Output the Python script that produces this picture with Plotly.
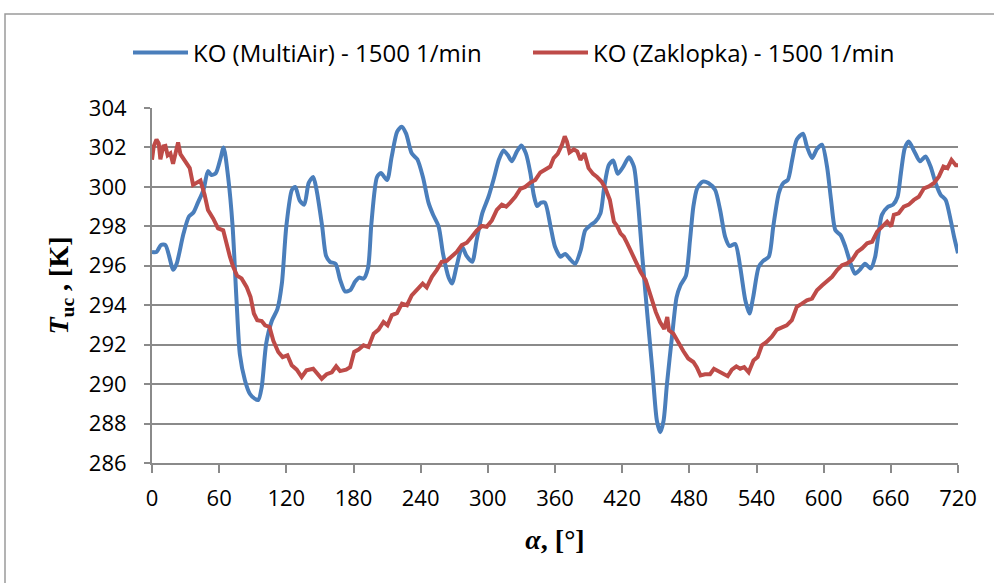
import plotly.graph_objects as go

# ---- data ----
multiair_deg = [0, 4, 8, 12, 19, 22, 28, 33, 37, 41, 46, 50, 53, 57, 61, 64, 68, 72, 75.5, 78.5,
                83, 87.5, 92, 95, 98, 102, 107, 112, 116, 120, 125, 128, 132, 136, 140, 144, 147, 152,
                155.5, 159, 164, 168, 172.5, 177, 181.5, 185, 189, 193, 196, 201, 204.5, 210, 214, 219,
                223, 227, 232, 237, 242, 247, 251, 256, 260, 265, 268, 272, 277, 281, 286, 290, 295,
                300.6, 305, 310, 314, 318, 321.5, 326, 330, 334, 338, 341, 344, 347.5, 351, 356, 360,
                365, 369, 374, 378, 383, 387, 392, 396, 400.6, 404, 408, 412, 416, 421, 426, 430.5, 434,
                438, 442.4, 447, 451, 454, 457, 460, 464.8, 468.6, 472, 477, 480.6, 483.6, 487, 492, 497,
                503, 507.5, 512, 516, 521, 525.4, 530, 533.7, 537, 542, 546, 551, 555, 560, 564, 568,
                572, 576, 581.5, 585, 589.6, 594, 598.5, 603, 606.6, 610.5, 615, 619.4, 624, 628, 632,
                637, 642, 646, 649, 652, 657, 662, 666, 669, 672.5, 676, 681, 686, 691, 695.5, 700,
                704.5, 709, 713.5, 716.5, 720]
multiair_T = [296.7, 296.7, 297.05, 297.05, 295.8, 296.1, 297.6, 298.5, 298.7, 299.2, 299.85, 300.8,
              300.6, 300.7, 301.4, 302.0, 300.5, 298.0, 294.25, 291.5, 290.2, 289.5, 289.25, 289.2,
              289.85, 292.05, 293.2, 293.8, 295.1, 298.0, 299.85, 300.0, 299.3, 299.1, 300.2, 300.5,
              299.85, 298.0, 296.5, 296.2, 296.1, 295.3, 294.7, 294.76, 295.2, 295.4, 295.35, 295.9,
              298.15, 300.5, 300.7, 300.35, 301.5, 302.8, 303.05, 302.7, 301.7, 301.4, 300.5, 299.2,
              298.6, 298.0, 296.6, 295.4, 295.1, 295.95, 296.96, 296.5, 296.2, 297.3, 298.66, 299.5,
              300.35, 301.4, 301.85, 301.6, 301.3, 301.8, 302.1, 301.7, 300.7, 299.6, 299.03, 299.2,
              299.2, 298.0, 296.96, 296.46, 296.6, 296.3, 296.1, 296.8, 297.8, 298.07, 298.24, 298.66,
              300.0, 301.1, 301.34, 300.66, 301.03, 301.5, 301.03, 299.3, 296.46, 293.58, 290.7,
              288.15, 287.56, 288.15, 290.0, 292.56, 294.4, 295.0, 295.5, 297.3, 299.0, 299.93, 300.27,
              300.2, 299.85, 298.83, 297.47, 297.0, 297.1, 295.95, 294.25, 293.58, 294.4, 295.95,
              296.25, 296.46, 298.0, 299.7, 300.2, 300.35, 301.4, 302.4, 302.7, 302.05, 301.46, 301.92,
              302.14, 301.03, 299.34, 297.8, 297.56, 296.96, 296.12, 295.6, 295.78, 296.1, 295.86,
              296.46, 297.63, 298.58, 298.97, 299.1, 299.5, 300.7, 301.97, 302.3, 301.8, 301.3,
              301.54, 301.03, 300.2, 299.6, 299.34, 298.3, 297.47, 296.63]

zaklopka_deg = [0, 1.5, 4, 6, 7.5, 10, 12, 14, 16.4, 18.8, 21, 23.3, 25.4, 29, 33.7, 36.7, 39.7, 43.3,
                47, 50, 54.6, 59, 63.6, 66.6, 69.6, 72.5, 76, 80, 84.5, 88, 91, 94, 98, 101, 105,
                108.4, 112.8, 116.7, 121, 124.8, 129.3, 133.7, 138, 144, 148, 151.6, 156, 160.6, 164.5,
                168, 173.4, 177, 180.6, 184.5, 189, 193.4, 198, 202.4, 206.8, 210.4, 214.3, 218.8,
                223.3, 227.8, 232, 236.7, 241.8, 245.4, 250, 254.3, 258.8, 263.3, 267.8, 272.2, 276.7,
                281.2, 285.7, 290, 294.6, 299, 303.6, 308, 312.5, 316.4, 320, 324.5, 329, 333.4, 338,
                342.4, 346.9, 351.3, 355.8, 358.8, 362.4, 366.3, 368.7, 370.7, 373, 376.8, 379.8,
                382.7, 386.3, 390, 394, 397.6, 401.5, 405, 409, 412.6, 415.6, 418.5, 421.5, 424.5, 428,
                432, 436.4, 441, 445.4, 450, 453.8, 457.6, 460.3, 461.8, 465.7, 469.3, 472, 474.6, 479,
                483.6, 486.6, 490, 494, 498.5, 502, 506, 510.4, 514.3, 518, 522, 525.4, 529, 533,
                537.3, 541, 544.8, 549, 553.7, 558.2, 562.7, 567, 571.6, 576, 580.6, 585, 589.6, 594,
                598.5, 603, 607.5, 612, 616.4, 620.9, 625.4, 630, 634.3, 638.8, 643.3, 647.8, 652.2,
                656.7, 660.3, 662.7, 667, 671.6, 676, 680.6, 685, 689.6, 694, 698.6, 703, 707, 710.6,
                714.2, 718, 720]
zaklopka_T = [301.37, 302.05, 302.4, 302.2, 301.4, 302.05, 302.08, 301.6, 301.7, 301.17, 301.7, 302.25,
              301.66, 301.37, 300.95, 300.1, 300.22, 300.32, 299.6, 298.83, 298.4, 297.9, 297.8,
              297.1, 296.46, 295.95, 295.5, 295.36, 294.93, 294.42, 293.58, 293.24, 293.2, 292.98,
              292.9, 292.2, 291.63, 291.37, 291.46, 290.95, 290.73, 290.36, 290.7, 290.78, 290.5,
              290.27, 290.5, 290.6, 290.9, 290.66, 290.73, 290.86, 291.63, 291.75, 291.97, 291.88,
              292.56, 292.76, 293.15, 292.98, 293.5, 293.6, 294.08, 294.0, 294.5, 294.76, 295.1,
              294.9, 295.44, 295.78, 296.2, 296.25, 296.46, 296.7, 297.05, 297.17, 297.47, 297.78,
              298.02, 297.98, 298.3, 298.83, 299.1, 299.0, 299.2, 299.5, 299.9, 300.0, 300.22, 300.35,
              300.73, 300.9, 301.03, 301.46, 301.68, 302.14, 302.56, 302.3, 301.75, 301.9, 301.8,
              301.37, 301.7, 300.95, 300.66, 300.5, 300.27, 299.93, 299.34, 298.24, 298.0, 297.64,
              297.47, 297.14, 296.7, 296.2, 295.7, 295.27, 294.42, 293.66, 293.15, 292.8, 293.4,
              292.73, 292.56, 292.2, 291.88, 291.68, 291.3, 291.12, 290.86, 290.44, 290.5, 290.5,
              290.78, 290.66, 290.56, 290.4, 290.73, 290.9, 290.78, 290.86, 290.6, 291.2, 291.37,
              291.97, 292.14, 292.4, 292.76, 292.9, 292.98, 293.24, 293.92, 294.08, 294.25, 294.34,
              294.76, 295.0, 295.2, 295.44, 295.78, 296.03, 296.12, 296.3, 296.7, 296.88, 297.14,
              297.22, 297.73, 298.0, 298.24, 298.0, 298.58, 298.66, 299.0, 299.1, 299.34, 299.5,
              299.93, 300.02, 300.2, 300.53, 301.03, 300.95, 301.37, 301.1, 301.1]

series_names = ["KO (MultiAir) - 1500 1/min", "KO (Zaklopka) - 1500 1/min"]
x_ticks = [0, 60, 120, 180, 240, 300, 360, 420, 480, 540, 600, 660, 720]
y_ticks = [286, 288, 290, 292, 294, 296, 298, 300, 302, 304]

BLUE = "#4a7ebb"
RED = "#be4b48"
GRID = "#8a8a8a"
TICKFONT = dict(family="Open Sans, Liberation Sans, sans-serif", size=22, color="#000000")

fig = go.Figure()
fig.add_trace(go.Scatter(x=multiair_deg, y=multiair_T, mode="lines", name=series_names[0],
                         line=dict(color=BLUE, width=4, shape="spline", smoothing=0.7)))
fig.add_trace(go.Scatter(x=zaklopka_deg, y=zaklopka_T, mode="lines", name=series_names[1],
                         line=dict(color=RED, width=4)))

fig.update_layout(
    width=994, height=583,
    margin=dict(l=152, r=36, t=108, b=120, autoexpand=False),
    paper_bgcolor="white", plot_bgcolor="white",
    showlegend=True,
    legend=dict(orientation="h", x=(128 - 152) / 806, xanchor="left", y=1.155, yanchor="middle",
                font=dict(family="Open Sans, Liberation Sans, sans-serif", size=24, color="#000000"),
                entrywidth=330, entrywidthmode="pixels",
                itemwidth=55, traceorder="normal", bgcolor="rgba(0,0,0,0)"),
    xaxis=dict(range=[0, 720], tickvals=x_ticks, ticktext=[str(v) for v in x_ticks],
               showgrid=False, zeroline=False, showline=True, linecolor=GRID, linewidth=2,
               ticks="outside", ticklen=8, tickwidth=1.5, tickcolor=GRID, tickfont=TICKFONT,
               ticklabelstandoff=7,
               title=dict(text="<b><i>α</i>, [°]</b>", standoff=18,
                          font=dict(family="Liberation Serif, serif", size=28, color="#000000"))),
    yaxis=dict(range=[286, 304], tickvals=y_ticks, ticktext=[str(v) for v in y_ticks],
               showgrid=True, gridcolor=GRID, gridwidth=1.5, zeroline=False,
               showline=True, linecolor=GRID, linewidth=2,
               ticks="outside", ticklen=6, tickwidth=1.5, tickcolor=GRID, tickfont=TICKFONT,
               ticklabelstandoff=13,
               title=dict(text="<b><i>T</i><sub>uc</sub> , [K]</b>", standoff=12,
                          font=dict(family="Liberation Serif, serif", size=28, color="#000000"))),
    shapes=[dict(type="rect", xref="paper", yref="paper",
                 x0=(5 - 152) / 806, x1=(1000 - 152) / 806,
                 y0=(463 - 600) / 355, y1=(463 - 14) / 355,
                 line=dict(color="#9a9a9a", width=1.5), fillcolor="rgba(0,0,0,0)", layer="below")],
)

fig.write_html("out.html", config={"displayModeBar": False},
               post_script="document.body.style.margin='0';")
